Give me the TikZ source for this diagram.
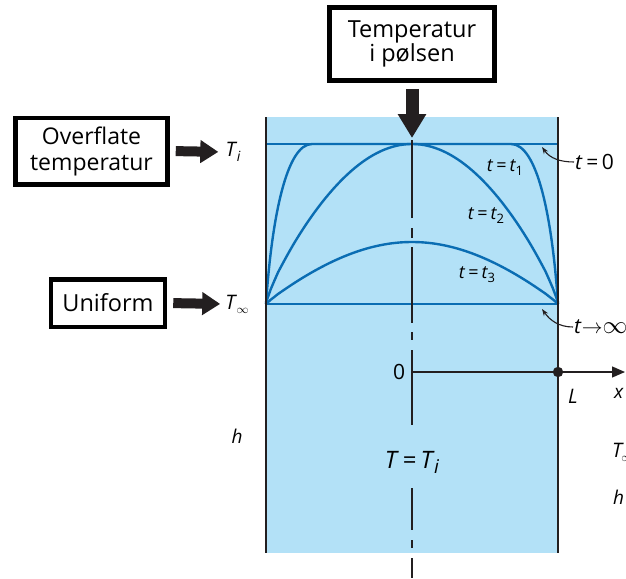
\documentclass[tikz,border=0pt]{standalone}
\usepackage{fontspec}
\setmainfont{Open Sans}
\usetikzlibrary{arrows.meta}
\definecolor{fillblue}{RGB}{179,225,247}
\definecolor{curveblue}{RGB}{10,109,179}
\definecolor{dark}{RGB}{35,31,32}
\newcommand{\fs}[1]{\fontsize{#1}{#1}\selectfont}
\newcommand{\lowsub}[2]{\kern-0.5pt\raisebox{-0.4ex}{\fs{#1}#2}}
\tikzset{
  wall/.style={draw=dark, line width=2.6pt},
  blueline/.style={draw=curveblue, line width=2.4pt},
  cline/.style={draw=dark, line width=2.6pt},
  box/.style={draw=black, line width=4.5pt, align=center, inner sep=0pt},
  fat/.style={draw=dark, line width=10pt, -{Triangle[length=18pt,width=22pt]}},
  fatv/.style={draw=dark, line width=13pt, -{Triangle[length=24pt,width=27pt]}},
  lab/.style={inner sep=1pt, text=black},
  thinarrow/.style={draw=dark, line width=1.1pt, -{Stealth[length=7pt,width=5pt]}},
}
\begin{document}
\begin{tikzpicture}[x=1pt,y=-1pt]
\useasboundingbox (0,0) rectangle (626,578);
% body
\fill[fillblue] (266,117) rectangle (558,553);
\draw[blueline] (266,144) -- (558,144);
\draw[blueline] (266,304) -- (558,304);
% curves
\draw[blueline] (266,304) .. controls (272,215) and (287,144) .. (312,144) -- (511,144)
  .. controls (537,144) and (552,215) .. (558,304);
\draw[blueline] (266,304) -- plot[domain=0.004:0.996, samples=80] ({266+292*\x},{304-160*pow(sin(180*\x),0.8)}) -- (558,304);
\draw[blueline] (266,304) -- plot[domain=0.004:0.996, samples=80] ({266+292*\x},{304-62*pow(sin(180*\x),0.9)}) -- (558,304);
% walls
\draw[wall] (266,117) -- (266,553);
\draw[wall] (558,117) -- (558,553);
% centre line
\foreach \a/\b in {140/218, 228/238, 247/323, 332/340, 350/425, 488/530, 540/548, 558/578}
  \draw[cline] (412,\a) -- (412,\b);
% axis
\coordinate (origin) at (412,372);
\coordinate (Lpt) at (558,372);
\coordinate (xend) at (625,372);
\draw[draw=dark, line width=1.3pt] (origin) -- (Lpt);
\draw[draw=dark, line width=1.3pt, -{Triangle[length=13pt,width=11pt]}] (Lpt) -- (xend);
\fill[dark] (Lpt) circle (5.2pt);
\node[lab] (zero) at (399,372) {\fs{21}0};
\node[lab] (Llab) at (573,396) {\fs{20}\textit{L}};
\node[lab] (xlab) at (619,393) {\fs{19}\textit{x}};
% boxes
\node[box, minimum width=165pt, minimum height=73pt, font={\fontsize{23.5}{24}\selectfont}] (btop) at (412,44)
  {Temperatur\\i pølsen};
\node[box, minimum width=152pt, minimum height=66.5pt, font={\fontsize{23}{26}\selectfont}] (bsurf) at (91.5,151)
  {Overflate\\temperatur};
\node[box, minimum width=114pt, minimum height=47.5pt, font={\fontsize{23.5}{24}\selectfont}] (bunif) at (108,303)
  {Uniform};
% labels
\node[lab] (Ti) at (233,152) {\fs{20}\textit{T}\lowsub{14}{\textit{i}}};
\node[lab] (Tinf) at (237,304) {\fs{20}\textit{T}\lowsub{13}{$\infty$}};
\coordinate (toptip) at (412,138);
\draw[fatv, shorten <=6pt] (btop) -- (toptip);
\draw[fat, shorten <=6pt, shorten >=6pt] (bsurf.east) -- (Ti.west);
\draw[fat, shorten <=6pt, shorten >=4pt] (bunif.east) -- (Tinf.west);
% time labels
\node[lab] (t1) at (505,168) {\fs{18}\textit{t}\,=\,\textit{t}\lowsub{13}{1}};
\node[lab] (t2) at (486,216) {\fs{18}\textit{t}\,=\,\textit{t}\lowsub{13}{2}};
\node[lab] (t3) at (477,275) {\fs{18}\textit{t}\,=\,\textit{t}\lowsub{13}{3}};
\node[lab, anchor=west] (t0) at (574,162) {\fs{21}\textit{t}\,=\,0};
\node[lab, anchor=west] (tinf) at (573,327) {\fs{21}\textit{t}$\rightarrow$\fs{24}$\infty$};
\coordinate (t0tip) at (542,147);
\coordinate (tinftip) at (542,309);
\draw[thinarrow] (t0.west) to[out=180, in=-55] (t0tip);
\draw[thinarrow] (tinf.west) to[out=180, in=-55] (tinftip);
% centre text
\node[lab] (TTi) at (412,462) {\fs{24}\textit{T}\,=\,\textit{T}\lowsub{19}{\textit{i}}};
% h and ambient labels
\node[lab] (hleft) at (237,436) {\fs{19}\textit{h}};
\node[lab, anchor=west] (Tamb) at (611,452) {\fs{20}\textit{T}\kern-2pt\lowsub{13}{$\infty$}};
\node[lab, anchor=west] (hright) at (612,497) {\fs{19}\textit{h}};
\end{tikzpicture}
\end{document}
